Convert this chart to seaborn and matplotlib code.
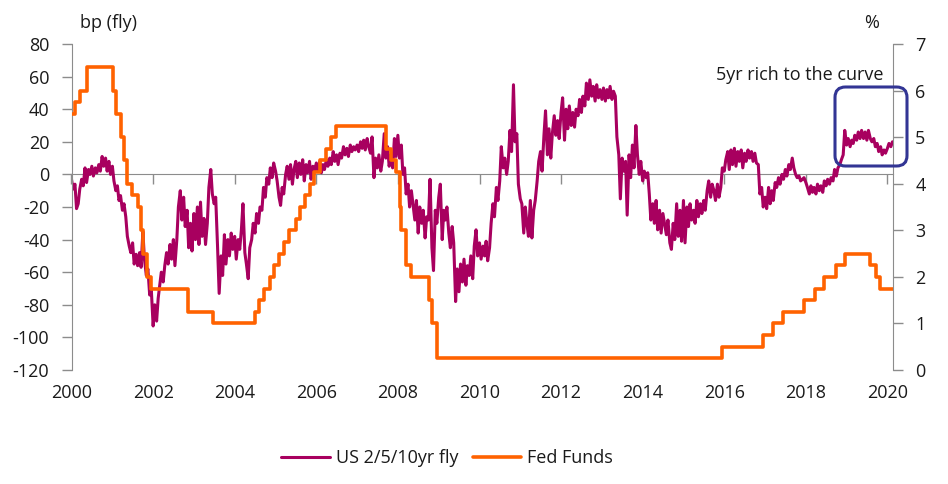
import matplotlib
matplotlib.use("Agg")
from matplotlib import pyplot as plt
from matplotlib.patches import FancyBboxPatch
import matplotlib.dates as mdates
import pandas as pd
import seaborn as sns

fly_2000 = [-3, -9, -6, -21, -18, -9, -3, -7, 4, -5, 3, 0, 5, -1, 4, 1, 6, 2, 11, 5, 10, 2, 8, 0]
fly_2001 = [5, -4, -10, -7, -16, -13, -22, -18, -26, -38, -44, -48, -42, -55, -49, -56, -48, -57, -35, -52, -62, -58, -74, -70]
fly_2002 = [-93, -80, -90, -76, -68, -60, -66, -56, -48, -55, -43, -52, -40, -56, -40, -20, -10, -28, -14, -32, -22, -45, -30, -47]
fly_2003 = [-24, -40, -20, -43, -17, -38, -27, -43, -30, -8, 3, -12, -18, -14, -45, -73, -50, -62, -37, -55, -40, -50, -36, -46]
fly_2004 = [-38, -52, -40, -46, -34, -18, -48, -55, -64, -45, -40, -30, -36, -24, -30, -20, -22, -8, -14, -2, -6, 4, -2, 7]
fly_2005 = [2, -4, -14, -19, -8, -12, 0, 5, -3, 6, -6, 3, 8, -2, 7, 0, 9, -4, 6, 1, 8, -3, 5, 2]
fly_2006 = [7, 2, 8, 1, 6, 3, 9, 5, 10, 6, 14, 8, 12, 6, 13, 10, 17, 12, 16, 11, 18, 14, 17, 15]
fly_2007 = [18, 14, 20, 16, 21, 15, 22, 17, 13, 23, -2, 10, 4, 12, 2, 8, 25, 10, 17, 5, 12, 4, 22, 11]
fly_2008 = [24, 10, 18, 0, 4, -12, -6, -20, -10, -18, -28, -16, -36, -20, -30, -22, -39, -26, -28, -3, -45, -59, -22, -30]
fly_2009 = [-14, -6, -40, -22, -28, -20, -36, -45, -32, -42, -78, -58, -72, -55, -66, -52, -68, -56, -62, -50, -64, -44, -34, -50]
fly_2010 = [-42, -52, -44, -50, -41, -53, -45, -30, -18, -26, -8, -16, -4, 17, 4, 10, 0, 8, 27, 14, 55, 20, 25, -6]
fly_2011 = [-15, -18, -36, -20, -30, -38, -16, -39, -22, -16, -4, 8, 14, 2, 24, 39, 12, 28, 10, 25, 36, 24, 33, 22]
fly_2012 = [38, 47, 21, 40, 28, 42, 30, 38, 29, 40, 36, 46, 38, 48, 42, 56, 46, 58, 48, 54, 45, 55, 47, 52]
fly_2013 = [46, 53, 45, 52, 47, 54, 46, 51, 48, 23, 12, -15, 10, 2, 8, -25, 12, -2, 18, 4, 30, 12, 0, 8]
fly_2014 = [-4, 2, -2, 1, -12, -28, -18, -30, -16, -34, -22, -36, -24, -30, -37, -28, -42, -46, -30, -40, -18, -38, -22, -41]
fly_2015 = [-16, -42, -20, -32, -18, -28, -22, -30, -16, -26, -18, -24, -16, -22, -10, -4, -14, -6, -10, -16, -6, -14, -8, 4]
fly_2016 = [2, 9, 14, 3, 15, 6, 16, 5, 14, 8, 15, 4, 13, 8, 15, 10, 14, 8, 13, 7, 6, -12, -8, -20]
fly_2017 = [-14, -21, -8, -18, -10, -16, -5, -8, -2, -6, 0, -3, 3, -1, 6, 3, 10, 4, 0, -2, -1, -4, -3, -2]
fly_2018 = [-5, -8, -12, -7, -11, -8, -12, -6, -10, -7, -11, -4, -7, -3, -6, -2, -4, 3, -1, 4, 6, 9, 12, 27]
fly_2019 = [18, 22, 17, 21, 19, 24, 21, 26, 22, 27, 22, 26, 21, 27, 22, 20, 22, 17, 19, 14, 17, 12, 15, 13]
fly_2020 = [16, 19, 17, 20]

fly_bp = (fly_2000 + fly_2001 + fly_2002 + fly_2003 + fly_2004 + fly_2005 + fly_2006
          + fly_2007 + fly_2008 + fly_2009 + fly_2010 + fly_2011 + fly_2012 + fly_2013
          + fly_2014 + fly_2015 + fly_2016 + fly_2017 + fly_2018 + fly_2019 + fly_2020)
fly_dates = pd.date_range('2000-01-01', periods=len(fly_bp), freq='SMS')

# Fed funds target (%), change dates
fed_dates = ['2000-01-01', '2000-02-02', '2000-03-21', '2000-05-16', '2001-01-03', '2001-01-31',
             '2001-03-20', '2001-04-18', '2001-05-15', '2001-06-27', '2001-08-21', '2001-09-17',
             '2001-10-02', '2001-11-06', '2001-12-11', '2002-11-06', '2003-06-25', '2004-06-30',
             '2004-08-10', '2004-09-21', '2004-11-10', '2004-12-14', '2005-02-02', '2005-03-22',
             '2005-05-03', '2005-06-30', '2005-08-09', '2005-09-20', '2005-11-01', '2005-12-13',
             '2006-01-31', '2006-03-28', '2006-05-10', '2006-06-29', '2007-09-18', '2007-10-31',
             '2007-12-11', '2008-01-22', '2008-01-30', '2008-03-18', '2008-04-30', '2008-10-08',
             '2008-10-29', '2008-12-16', '2015-12-16', '2016-12-14', '2017-03-15', '2017-06-14',
             '2017-12-13', '2018-03-21', '2018-06-13', '2018-09-26', '2018-12-19', '2019-07-31',
             '2019-09-18', '2019-10-30', '2020-02-20']
fed_rate = [5.5, 5.75, 6.0, 6.5, 6.0, 5.5,
            5.0, 4.5, 4.0, 3.75, 3.5, 3.0,
            2.5, 2.0, 1.75, 1.25, 1.0, 1.25,
            1.5, 1.75, 2.0, 2.25, 2.5, 2.75,
            3.0, 3.25, 3.5, 3.75, 4.0, 4.25,
            4.5, 4.75, 5.0, 5.25, 4.75, 4.5,
            4.25, 3.5, 3.0, 2.25, 2.0, 1.5,
            1.0, 0.25, 0.5, 0.75, 1.0, 1.25,
            1.5, 1.75, 2.0, 2.25, 2.5, 2.25,
            2.0, 1.75, 1.75]

df_fly = pd.DataFrame({'date': fly_dates, 'bp': fly_bp})
df_fed = pd.DataFrame({'date': pd.to_datetime(fed_dates), 'rate': fed_rate})

MAGENTA = '#A8005F'
ORANGE = '#FF6200'
NAVY = '#323594'
GREY = '#8c8c8c'
TXT = '#1a1a1a'

sns.set_style('white')
plt.rcParams['font.family'] = ['Open Sans', 'DejaVu Sans']
plt.rcParams['axes.unicode_minus'] = False

W, H = 948, 484
fig = plt.figure(figsize=(W / 100, H / 100), dpi=100)
ax = fig.add_axes([71.5 / W, 1 - 370 / H, (893 - 71.5) / W, (370 - 44) / H])

sns.lineplot(x='date', y='bp', data=df_fly, ax=ax, color=MAGENTA, lw=2.2,
             estimator=None, sort=False, label='US 2/5/10yr fly', legend=False)
ax.set_ylim(-120, 80)
ax.set_yticks(range(-120, 81, 20))
ax.set_xlim(pd.Timestamp('2000-01-01'), pd.Timestamp('2020-02-20'))
ax.xaxis.set_major_locator(mdates.YearLocator(2))
ax.xaxis.set_major_formatter(mdates.DateFormatter('%Y'))
ax.set_xlabel('')
ax.set_ylabel('')
for s in ['top', 'right', 'bottom']:
    ax.spines[s].set_visible(False)
ax.spines['left'].set_color(GREY)
ax.tick_params(axis='y', left=True, length=7, width=1, color=GREY, pad=9,
               labelsize=13, labelcolor=TXT)
ax.tick_params(axis='x', bottom=False, length=0, pad=10, labelsize=13, labelcolor=TXT)

# zero line with year ticks
sec = ax.secondary_xaxis(0.6)
sec.set_alignment('bottom')
sec.xaxis.set_major_locator(mdates.YearLocator(2))
sec.spines['bottom'].set_color(GREY)
sec.tick_params(axis='x', length=7, width=1, color=GREY, direction='out', labelbottom=False)

ax2 = ax.twinx()
sns.lineplot(x='date', y='rate', data=df_fed, ax=ax2, color=ORANGE, lw=2.6,
             estimator=None, sort=False, drawstyle='steps-post',
             label='Fed Funds', legend=False)
ax2.set_ylim(0, 7)
ax2.set_yticks(range(0, 8))
ax2.set_ylabel('')
for s in ['top', 'left', 'bottom']:
    ax2.spines[s].set_visible(False)
ax2.spines['right'].set_color(GREY)
ax2.tick_params(axis='y', right=True, length=7, width=1, color=GREY, pad=9,
                labelsize=13, labelcolor=TXT)

fig.text(80 / W, 1 - 23 / H, 'bp (fly)', fontsize=13, color=TXT, ha='left', va='center')
fig.text(872 / W, 1 - 23 / H, '%', fontsize=13, color=TXT, ha='center', va='center')

fig.text(884 / W, 1 - 75 / H, '5yr rich to the curve', fontsize=13, color=TXT,
         ha='right', va='center')
box = FancyBboxPatch((835 / W, 1 - 166 / H), (907 - 835) / W, (166 - 87) / H,
                     boxstyle='round,pad=0,rounding_size=0.011', mutation_aspect=W / H,
                     transform=fig.transFigure, fill=False, edgecolor=NAVY, lw=2.2)
fig.patches.append(box)

handles = [ax.lines[0], ax2.lines[0]]
fig.legend(handles, ['US 2/5/10yr fly', 'Fed Funds'], loc='center',
           bbox_to_anchor=(447 / W, 1 - 458 / H), ncol=2, frameon=False, fontsize=13,
           handlelength=2.7, handletextpad=0.3, columnspacing=0.8, labelcolor=TXT)

fig.savefig('out.png', dpi=100)
